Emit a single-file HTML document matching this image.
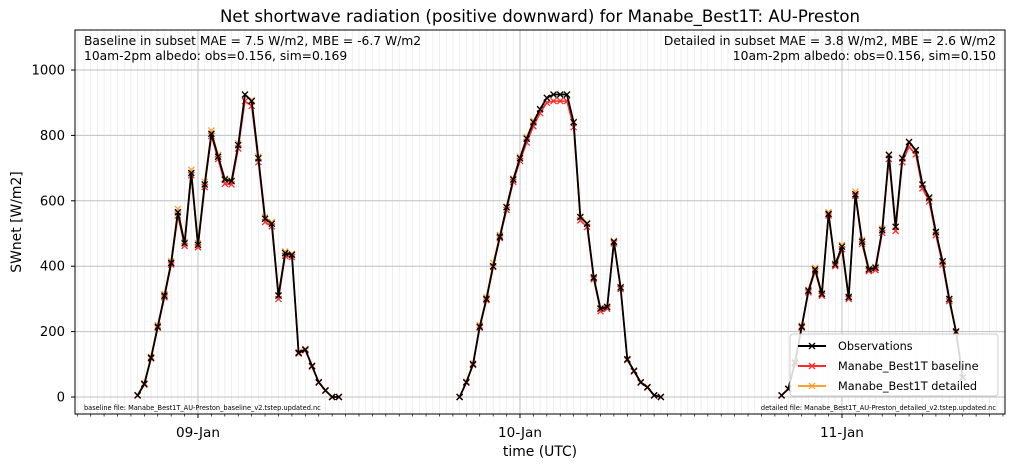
<!DOCTYPE html>
<html><head><meta charset="utf-8"><style>
body{margin:0;background:#fff;}
svg{display:block;font-family:"DejaVu Sans","Liberation Sans",sans-serif;}
</style></head><body>
<svg id="chart" width="1014" height="468" viewBox="0 0 1014 468">
<text x="540" y="22" font-size="16.6" text-anchor="middle">Net shortwave radiation (positive downward) for Manabe_Best1T: AU-Preston</text>
<g id="grid"></g>
<g id="series"></g>
<rect x="75" y="30" width="930" height="384" fill="none" stroke="#000" stroke-width="1"/>
<g id="axes"></g>
<text x="84" y="45" font-size="12.3">Baseline in subset MAE = 7.5 W/m2, MBE = -6.7 W/m2</text>
<text x="84" y="60" font-size="12.3">10am-2pm albedo: obs=0.156, sim=0.169</text>
<text x="996" y="45" font-size="12.3" text-anchor="end">Detailed in subset MAE = 3.8 W/m2, MBE = 2.6 W/m2</text>
<text x="996" y="60" font-size="12.3" text-anchor="end">10am-2pm albedo: obs=0.156, sim=0.150</text>
<text x="84" y="410" font-size="6.6">baseline file: Manabe_Best1T_AU-Preston_baseline_v2.tstep.updated.nc</text>
<text x="996" y="410" font-size="6.6" text-anchor="end">detailed file: Manabe_Best1T_AU-Preston_detailed_v2.tstep.updated.nc</text>
<text x="540" y="456" font-size="13.9" text-anchor="middle">time (UTC)</text>
<text x="21" y="222" font-size="13.9" text-anchor="middle" transform="rotate(-90 21 222)">SWnet [W/m2]</text>
<g>
<rect x="790" y="334" width="208" height="62" rx="3" fill="#fff" fill-opacity="0.85" stroke="#ccc"/>
<g><line x1="798" y1="346" x2="826" y2="346" stroke="#000" stroke-width="2"/><path d="M809,343L815,349M809,349L815,343" stroke="#000" stroke-width="1.3"/><text x="838" y="350" font-size="11.3">Observations</text></g>
<g><line x1="798" y1="366" x2="826" y2="366" stroke="#ff2a2a" stroke-width="2"/><path d="M809,363L815,369M809,369L815,363" stroke="#ff2a2a" stroke-width="1.3"/><text x="838" y="370" font-size="11.3">Manabe_Best1T baseline</text></g>
<g><line x1="798" y1="386" x2="826" y2="386" stroke="#ffa030" stroke-width="2"/><path d="M809,383L815,389M809,389L815,383" stroke="#ffa030" stroke-width="1.3"/><text x="838" y="390" font-size="11.3">Manabe_Best1T detailed</text></g>
</g>
</svg>
<script>
const dayLabels=["09-Jan","10-Jan","11-Jan"];
const yTicks=[0,200,400,600,800,1000];
const segStarts=[-9,39,87];
const obs1=[5,40,120,215,310,410,565,470,685,465,650,805,735,665,660,770,925,905,730,545,530,310,440,435,135,145,95,45,20,0,0];
const obs2=[0,45,100,215,300,400,490,580,665,730,790,840,880,915,925,925,925,840,550,530,365,270,275,475,335,115,80,45,30,5,0];
const obs3=[5,25,105,215,325,390,315,560,405,460,305,620,475,390,395,510,740,520,730,780,755,650,610,505,415,300,200,60];
const base1=[5,38,118,212,305,405,555,462,678,458,642,798,728,652,650,760,905,890,718,535,522,300,432,428,133,143,93,44,19,0,0];
const base2=[0,44,98,212,296,398,486,572,658,722,778,828,868,900,905,905,905,825,540,520,360,262,270,470,330,113,78,44,29,5,0];
const base3=[5,24,102,212,320,385,310,555,400,452,300,615,468,385,388,502,728,508,718,765,742,638,598,495,405,293,198,58];
const det1=[6,42,123,220,315,415,575,475,695,470,658,815,740,668,662,775,925,908,735,550,535,312,445,438,137,147,96,46,21,0,0];
const det2=[0,47,103,220,305,410,495,582,668,735,795,845,880,915,925,925,925,842,552,532,367,272,277,477,337,116,81,46,31,5,0];
const det3=[5,26,108,218,328,395,318,565,408,465,308,628,480,392,398,515,742,522,732,778,752,648,606,502,412,298,201,61];
const NS="http://www.w3.org/2000/svg";
const X0=75,X1=1005,Y0=30,Y1=414;
const xStep=6.708, xDay0=198;
function xs(i){return xDay0+i*xStep;}
function ys(v){return 397-v*0.327;}
function mk(tag,attrs,parent){const e=document.createElementNS(NS,tag);for(const k in attrs)e.setAttribute(k,attrs[k]);parent.appendChild(e);return e;}
const grid=document.getElementById('grid'),axes=document.getElementById('axes'),series=document.getElementById('series');
for(let i=-18;i<=48*2+24;i++){const x=xs(i);if(x<=X0||x>=X1)continue;
 if(i%48===0)continue;
 const l=mk('line',{x1:x,y1:Y0,x2:x,y2:Y1,stroke:'#ebebeb','stroke-width':0.8},grid);
 
 
 if(i%2===0){const t=mk('line',{x1:x,y1:Y1,x2:x,y2:Y1+2.5,stroke:'#000','stroke-width':0.7},axes);
  
  }
}
yTicks.forEach(v=>{const y=ys(v);
 const g=mk('line',{x1:X0,y1:y,x2:X1,y2:y,stroke:'#c0c0c0','stroke-width':1},grid);
 
 
 mk('line',{x1:X0-4,y1:y,x2:X0,y2:y,stroke:'#000'},axes);
 const t=mk('text',{x:X0-10,y:y+4.5,'font-size':13.2,'text-anchor':'end'},axes);t.textContent=v;
 
 
});
dayLabels.forEach((d,k)=>{const x=xs(k*48);
 const g=mk('line',{x1:x,y1:Y0,x2:x,y2:Y1,stroke:'#c0c0c0','stroke-width':1},grid);
 
 
 mk('line',{x1:x,y1:Y1,x2:x,y2:Y1+4,stroke:'#000'},axes);
 const t=mk('text',{x:x,y:Y1+23,'font-size':13.6,'text-anchor':'middle'},axes);t.textContent=d;
 
 
});
function drawSeries(arrs,color,w,name){
 arrs.forEach((arr,k)=>{
  const pts=arr.map((v,i)=>[xs(segStarts[k]+i),ys(v)]);
  const p=mk('polyline',{points:pts.map(p=>p.join(',')).join(' '),fill:'none',stroke:color,'stroke-width':w,'stroke-linejoin':'round'},series);
  
  
  pts.forEach(([x,y])=>{
   const m=mk('path',{d:`M${x-3},${y-3}L${x+3},${y+3}M${x-3},${y+3}L${x+3},${y-3}`,stroke:color,'stroke-width':1.3},series);
   
   
  });
 });
}
drawSeries([det1,det2,det3],'#ffa030',1.5,'detailed');
drawSeries([base1,base2,base3],'#ff2a2a',1.5,'baseline');
drawSeries([obs1,obs2,obs3],'#000',1.8,'observations');
</script>
</body></html>
